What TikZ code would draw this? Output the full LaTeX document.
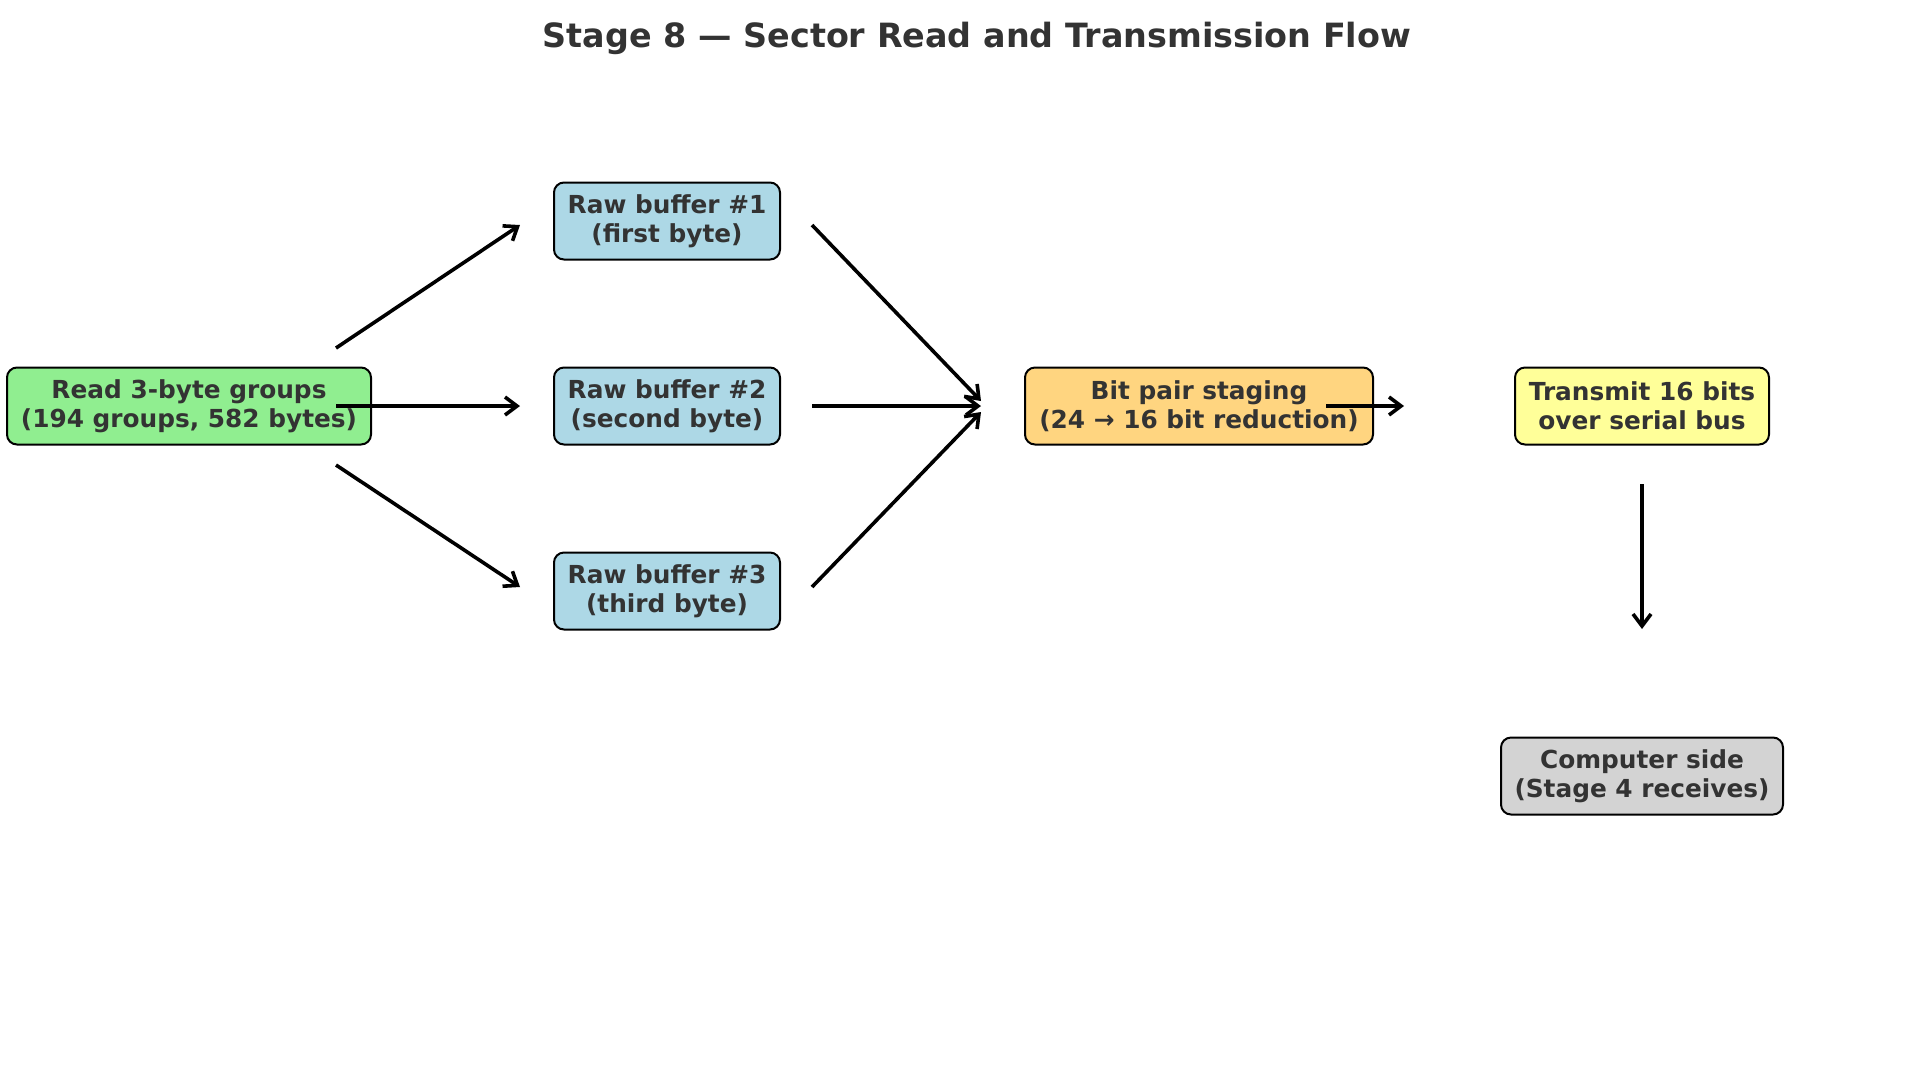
\documentclass[tikz,border=0pt]{standalone}
\usepackage{fontspec}
\setmainfont{DejaVu Sans}
\usetikzlibrary{arrows.meta,positioning}

\definecolor{textgrey}{HTML}{333333}
\definecolor{readgreen}{HTML}{90EE90}
\definecolor{bufblue}{HTML}{ADD8E6}
\definecolor{stageorange}{HTML}{FFD580}
\definecolor{sendyellow}{HTML}{FFFF99}
\definecolor{pcgrey}{HTML}{D3D3D3}

\tikzstyle{block} = [rectangle, draw, line width=1pt, rounded corners=5pt,
     align=center, minimum height=38.5pt, inner xsep=2pt, text=textgrey,
     font=\fontsize{12.4}{14.3}\selectfont\bfseries]
\tikzstyle{line} = [draw, line width=1.8pt, -{Straight Barb[length=6pt,width=9pt]}]

\begin{document}
\begin{tikzpicture}[x=0.5pt, y=-0.5pt]
    \useasboundingbox (0,0) rectangle (1927,1073);
    % Title
    \node [text=textgrey, font=\fontsize{16.7}{20}\selectfont\bfseries] (title) at (977,38) {Stage 8 --- Sector Read and Transmission Flow};

    % Place nodes
    \node [block, fill=readgreen, minimum width=182pt] (read_groups) at (189,406) {Read 3-byte groups\\(194 groups, 582 bytes)};
    \node [block, fill=bufblue, minimum width=113pt] (raw_buffer_2) at (667,406) {Raw buffer \#2\\(second byte)};
    \node [block, fill=bufblue, minimum width=113pt, above of=raw_buffer_2, node distance=92.5pt] (raw_buffer_1) {Raw buffer \#1\\(first byte)};
    \node [block, fill=bufblue, minimum width=113pt, below of=raw_buffer_2, node distance=92.5pt] (raw_buffer_3) {Raw buffer \#3\\(third byte)};
    \node [block, fill=stageorange, minimum width=174pt, right of=raw_buffer_2, node distance=266pt] (bit_staging) {Bit pair staging\\(24 → 16 bit reduction)};
    \node [block, fill=sendyellow, minimum width=127pt, right of=bit_staging, node distance=221.5pt] (transmit) {Transmit 16 bits\\over serial bus};
    \node [block, fill=pcgrey, minimum width=141pt, below of=transmit, node distance=185pt] (computer_side) {Computer side\\(Stage 4 receives)};

    % Arrow ends
    \coordinate (split_1) at (336,348);
    \coordinate (split_2) at (336,406);
    \coordinate (split_3) at (336,465);
    \coordinate (buf_in_1) at (520,225);
    \coordinate (buf_in_2) at (520,406);
    \coordinate (buf_in_3) at (520,587);
    \coordinate (buf_out_1) at (812,225);
    \coordinate (buf_out_2) at (812,406);
    \coordinate (buf_out_3) at (812,587);
    \coordinate (merge_1) at (981,401);
    \coordinate (merge_2) at (981,406);
    \coordinate (merge_3) at (981,412);
    \coordinate (stage_out) at (1326,406);
    \coordinate (send_in) at (1404,406);
    \coordinate (send_out) at (1642,484);
    \coordinate (pc_in) at (1642,629);

    % Draw edges
    \path [line] (split_1) -- (buf_in_1);
    \path [line] (split_2) -- (buf_in_2);
    \path [line] (split_3) -- (buf_in_3);
    \path [line] (buf_out_1) -- (merge_1);
    \path [line] (buf_out_2) -- (merge_2);
    \path [line] (buf_out_3) -- (merge_3);
    \path [line] (stage_out) -- (send_in);
    \path [line] (send_out) -- (pc_in);

\end{tikzpicture}
\end{document}
